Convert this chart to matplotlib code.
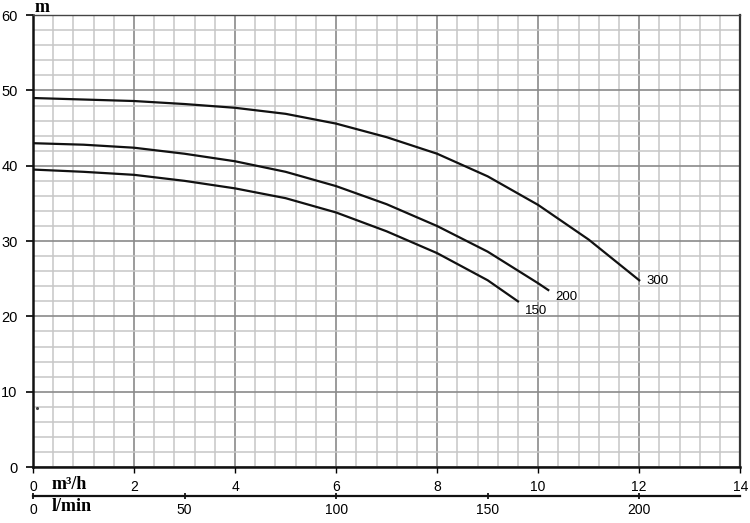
import matplotlib.pyplot as plt
import numpy as np

# pump curves, Q in m3/h, H in m
q300 = [0, 1, 2, 3, 4, 5, 6, 7, 8, 9, 10, 11, 12]
h300 = [49.0, 48.8, 48.6, 48.2, 47.7, 46.9, 45.6, 43.8, 41.6, 38.6, 34.8, 30.2, 24.8]
q200 = [0, 1, 2, 3, 4, 5, 6, 7, 8, 9, 10, 10.2]
h200 = [43.0, 42.8, 42.4, 41.6, 40.6, 39.2, 37.3, 34.9, 32.0, 28.6, 24.4, 23.5]
q150 = [0, 1, 2, 3, 4, 5, 6, 7, 8, 9, 9.6]
h150 = [39.5, 39.2, 38.8, 38.0, 37.0, 35.7, 33.8, 31.3, 28.4, 24.8, 22.0]
curve_names = ['300', '200', '150']
stray_dot = (0.08, 7.8)

xticks_m3h = [0, 2, 4, 6, 8, 10, 12, 14]
yticks_m = [0, 10, 20, 30, 40, 50, 60]
xticks_lmin = [0, 50, 100, 150, 200]

plt.rcParams['font.family'] = ['Liberation Sans', 'DejaVu Sans']

fig = plt.figure(figsize=(7.5, 5.23), dpi=100)
ax = fig.add_axes([0.044, 0.107, 0.943, 0.864])

ax.set_xlim(0, 14)
ax.set_ylim(0, 60)

# grid
ax.set_xticks(np.arange(0, 14.01, 0.4), minor=True)
ax.set_yticks(np.arange(0, 60.01, 2), minor=True)
ax.set_xticks(xticks_m3h)
ax.set_yticks(yticks_m)
ax.grid(which='minor', color='#c6c6c6', lw=1.1)
ax.grid(which='major', color='#8a8a8a', lw=1.2)
ax.set_axisbelow(True)

for q, h in [(q300, h300), (q200, h200), (q150, h150)]:
    ax.plot(q, h, color='#111111', lw=1.6, solid_joinstyle='round')

ax.text(q300[-1] + 0.14, h300[-1] - 0.1, curve_names[0], fontsize=9.5, va='center', ha='left')
ax.text(q200[-1] + 0.14, h200[-1] - 0.9, curve_names[1], fontsize=9.5, va='center', ha='left')
ax.text(q150[-1] + 0.14, h150[-1] - 1.3, curve_names[2], fontsize=9.5, va='center', ha='left')

ax.plot(*stray_dot, marker='.', color='#444444', ms=2.5)

for s in ['left', 'bottom']:
    ax.spines[s].set_linewidth(1.8)
    ax.spines[s].set_color('#111111')
ax.spines['right'].set_linewidth(1.6)
ax.spines['right'].set_color('#333333')
ax.spines['top'].set_linewidth(1.0)
ax.spines['top'].set_color('#444444')

ax.tick_params(axis='both', which='minor', length=0)
ax.tick_params(axis='y', which='major', length=5, width=1.2, labelsize=10.5, pad=6)
ax.tick_params(axis='x', which='major', length=4, width=1.0, labelsize=10, pad=5)

# second scale in l/min
sec = ax.secondary_xaxis(-0.064, functions=(lambda x: x * 1000 / 60, lambda x: x * 60 / 1000))
sec.set_xticks(xticks_lmin)
sec.spines['bottom'].set_linewidth(1.6)
sec.spines['bottom'].set_color('#111111')
sec.tick_params(axis='x', length=4, width=1.2, labelsize=10, pad=3, direction='inout')

fig.text(0.046, 0.978, 'm', fontsize=13, fontweight='bold',
         family='Liberation Serif', ha='left', va='baseline')
fig.text(0.069, 0.073, 'm³/h', fontsize=13, fontweight='bold', family='Liberation Serif',
         ha='left', va='center')
fig.text(0.069, 0.031, 'l/min', fontsize=13, fontweight='bold', family='Liberation Serif',
         ha='left', va='center')

fig.savefig('out.png', dpi=100)
